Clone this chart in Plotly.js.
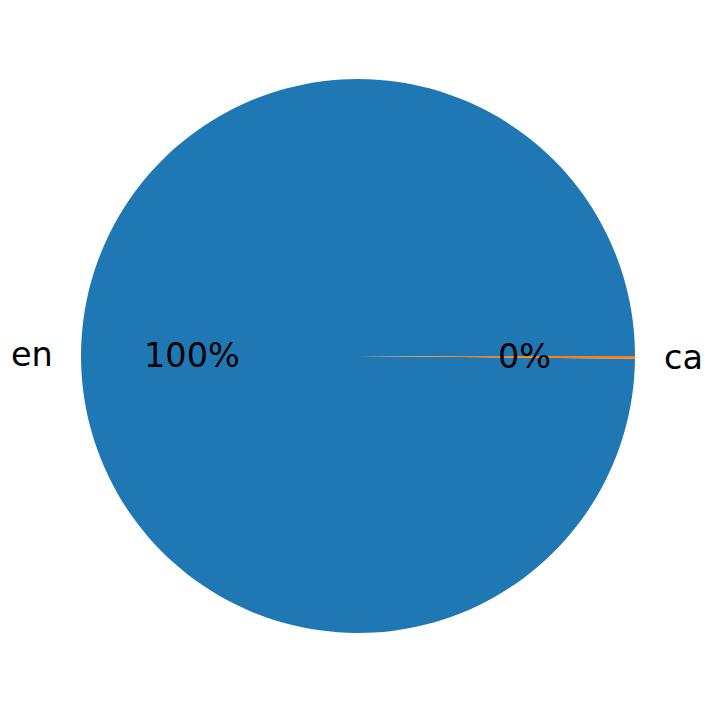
<!DOCTYPE html>
<html>
<head>
<meta charset="utf-8">
<script src="https://cdn.plot.ly/plotly-3.0.1.min.js"></script>
<style>html,body{margin:0;padding:0;background:#fff;}#chart{width:714px;height:713px;}</style>
</head>
<body>
<div id="chart"></div>
<script>
// Data
const labels = ["en", "ca"];
const values = [640, 1];
const colors = ["#1f77b4", "#ff7f0e"];

const W = 714, H = 713;
const cx = 358, cy = 356, R = 277;
const fontFam = "DejaVu Sans, sans-serif";
const fontSize = 33.5;

const total = values.reduce((a, b) => a + b, 0);
const fracs = values.map(v => v / total);
const lastFrac = fracs[fracs.length - 1];

// Matplotlib-style label / percentage placement derived from the data
const annotations = [];
let acc = 0;
fracs.forEach((f, i) => {
  const mid = (acc + f / 2) * 2 * Math.PI;
  acc += f;
  const c = Math.cos(mid), s = Math.sin(mid);
  const lx = cx + 1.1 * R * c, ly = cy - 1.1 * R * s;
  annotations.push({
    x: lx / W, y: 1 - ly / H, xref: "paper", yref: "paper",
    text: labels[i], showarrow: false,
    xanchor: c < 0 ? "right" : "left", yanchor: "middle",
    xshift: c < 0 ? 2 : -1,
    font: {family: fontFam, size: fontSize, color: "#000"}
  });
  const px = cx + 0.6 * R * c, py = cy - 0.6 * R * s;
  annotations.push({
    x: px / W, y: 1 - py / H, xref: "paper", yref: "paper",
    text: Math.round(f * 100) + "%", showarrow: false,
    xanchor: "center", yanchor: "middle",
    font: {family: fontFam, size: fontSize, color: "#000"}
  });
});

const trace = {
  type: "pie",
  labels: labels,
  values: values,
  sort: false,
  direction: "counterclockwise",
  rotation: 90 + 360 * lastFrac,
  marker: {colors: colors, line: {width: 0}},
  textinfo: "none",
  hoverinfo: "label+percent",
  showlegend: false,
  domain: {x: [(cx - R) / W, (cx + R) / W], y: [1 - (cy + R) / H, 1 - (cy - R) / H]}
};

const layout = {
  width: W, height: H,
  margin: {l: 0, r: 0, t: 0, b: 0},
  paper_bgcolor: "#ffffff",
  showlegend: false,
  annotations: annotations
};

Plotly.newPlot("chart", [trace], layout, {displayModeBar: false, staticPlot: true});
</script>
</body>
</html>
